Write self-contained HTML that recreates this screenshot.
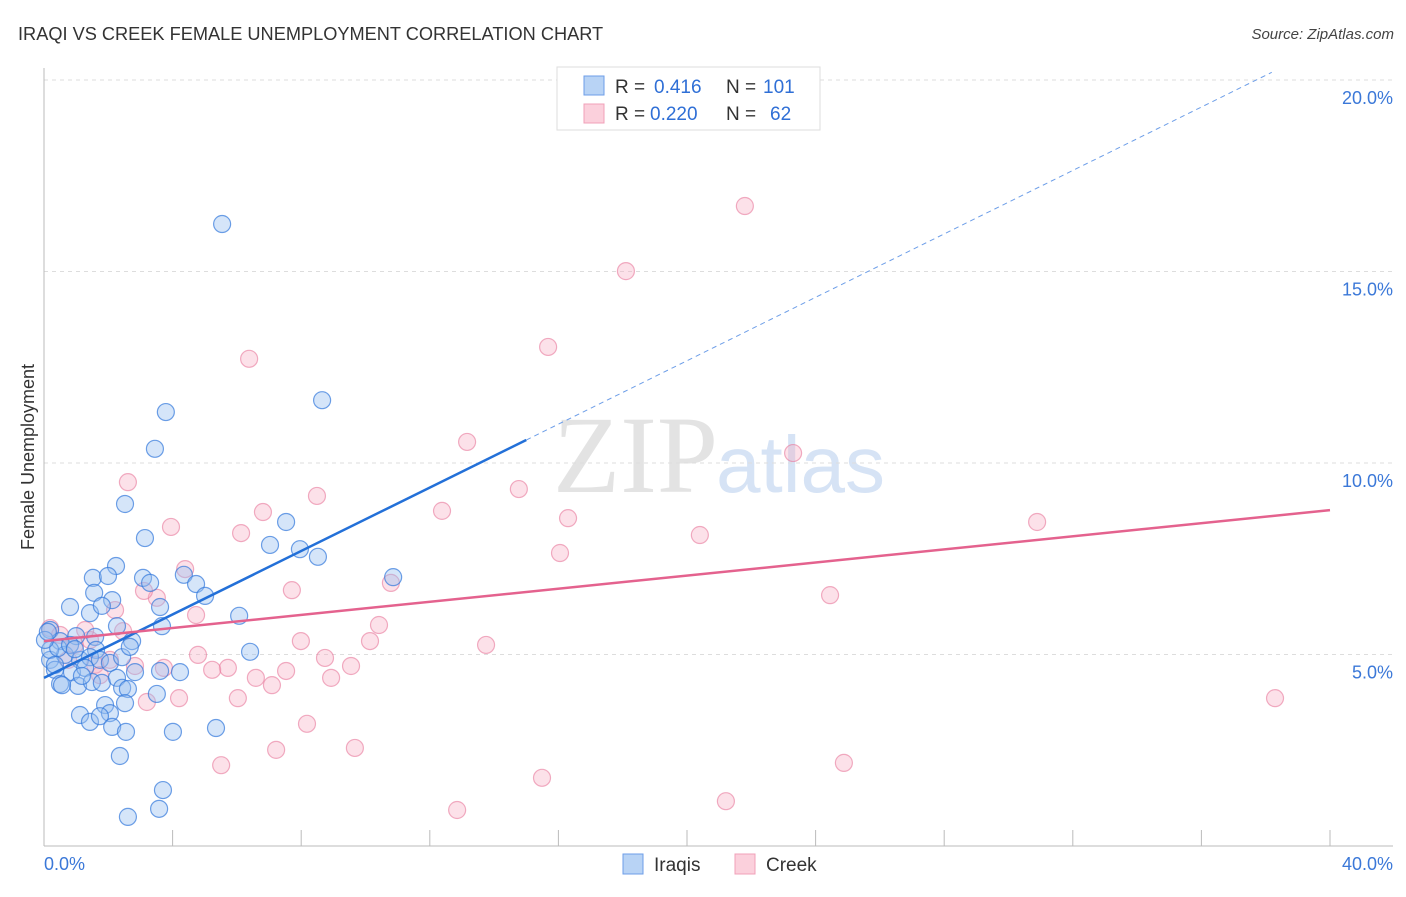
<!DOCTYPE html>
<html><head><meta charset="utf-8"><style>
body{margin:0;background:#fff;font-family:"Liberation Sans",sans-serif}
</style></head><body>
<svg width="1406" height="892" xmlns="http://www.w3.org/2000/svg" font-family="Liberation Sans, sans-serif">
<text x="18" y="40" font-size="18.2" fill="#333">IRAQI VS CREEK FEMALE UNEMPLOYMENT CORRELATION CHART</text>
<text x="1394" y="39" font-size="15" fill="#444" text-anchor="end" font-style="italic">Source: ZipAtlas.com</text>
<text x="553" y="492" font-size="110" fill="#e3e3e3" font-family="Liberation Serif, serif">ZIP</text>
<text x="716" y="492" font-size="80" fill="#d6e3f5">atlas</text>
<g id="grid"></g>
<line x1="44" y1="68" x2="44" y2="846" stroke="#bbb"/>
<line x1="44" y1="846" x2="1393" y2="846" stroke="#bbb"/>
<text transform="translate(34,457) rotate(-90)" font-size="18" fill="#333" text-anchor="middle">Female Unemployment</text>
<text x="44" y="870" font-size="18" fill="#3b78d8">0.0%</text>
<text x="1393" y="870" font-size="18" fill="#3b78d8" text-anchor="end">40.0%</text>
<g id="pts"></g>
<g id="lines"></g>
<g>
<rect x="557" y="67" width="263" height="63" fill="#fff" stroke="#ddd"/>
<rect x="584" y="76" width="20" height="19" fill="#b8d3f5" stroke="#6d9ee8"/>
<rect x="584" y="104" width="20" height="19" fill="#fbd0dc" stroke="#f0a0b8"/>
<text x="615" y="93" font-size="19" fill="#333">R =</text>
<text x="654" y="93" font-size="19" fill="#2f6fd6">0.416</text>
<text x="726" y="93" font-size="19" fill="#333">N =</text>
<text x="763" y="93" font-size="19" fill="#2f6fd6">101</text>
<text x="615" y="120" font-size="19" fill="#333">R =</text>
<text x="650" y="120" font-size="19" fill="#2f6fd6">0.220</text>
<text x="726" y="120" font-size="19" fill="#333">N =</text>
<text x="770" y="120" font-size="19" fill="#2f6fd6">62</text>
</g>
<g>
<rect x="623" y="854" width="20" height="20" fill="#b8d3f5" stroke="#6d9ee8"/>
<text x="654" y="871" font-size="19" fill="#333">Iraqis</text>
<rect x="735" y="854" width="20" height="20" fill="#fbd0dc" stroke="#f0a0b8"/>
<text x="766" y="871" font-size="19" fill="#333">Creek</text>
</g>
</svg>
<script>
const NS="http://www.w3.org/2000/svg";
const yTicks=[5,10,15,20];
const yTickLabels=["5.0%","10.0%","15.0%","20.0%"];
const xTicks=[0,4,8,12,16,20,24,28,32,36,40];
const bluePx=[[222,224],[166,412],[155,449],[322,400],[125,504],[145,538],[116,566],[93,578],[108,576],[143,578],[150,583],[184,575],[196,584],[205,596],[94,593],[112,600],[70,607],[90,613],[102,606],[160,607],[239,616],[162,626],[286,522],[270,545],[300,549],[318,557],[393,577],[50,630],[76,636],[95,637],[117,626],[132,641],[96,650],[60,641],[50,660],[65,655],[80,660],[90,657],[100,660],[110,663],[55,670],[72,672],[85,668],[60,684],[78,686],[92,682],[102,683],[122,657],[130,647],[160,671],[180,672],[250,652],[117,678],[135,672],[122,688],[128,689],[157,694],[80,715],[90,722],[105,705],[110,713],[100,716],[125,703],[112,727],[126,732],[173,732],[216,728],[120,756],[163,790],[159,809],[128,817],[50,650],[58,648],[70,645],[45,640],[48,632],[55,665],[62,685],[82,676],[75,649]];
const pinkPx=[[745,206],[626,271],[548,347],[249,359],[467,442],[793,453],[128,482],[519,489],[317,496],[442,511],[263,512],[171,527],[241,533],[568,518],[1037,522],[700,535],[560,553],[185,569],[391,583],[292,590],[157,598],[144,591],[830,595],[115,610],[196,615],[123,631],[379,625],[301,641],[370,641],[486,645],[325,658],[351,666],[198,655],[228,668],[212,670],[164,668],[135,666],[286,671],[256,678],[272,685],[331,678],[238,698],[179,698],[147,702],[1275,698],[307,724],[276,750],[355,748],[221,765],[542,778],[844,763],[457,810],[726,801],[50,628],[60,635],[75,645],[90,640],[95,665],[110,660],[68,660],[85,630],[100,675]];
const iraqiX=bluePx.map(p=>+((p[0]-44)/32.15).toFixed(2));
const iraqiY=bluePx.map(p=>+((846-p[1])/38.3).toFixed(2));
const creekX=pinkPx.map(p=>+((p[0]-44)/32.15).toFixed(2));
const creekY=pinkPx.map(p=>+((846-p[1])/38.3).toFixed(2));
const iraqiTrend=[4.39,10.6];
const creekTrend=[5.35,8.77];
const sx=v=>44+v*32.15, sy=v=>846-v*38.3;
function mk(t,a,p){const e=document.createElementNS(NS,t);for(const k in a)e.setAttribute(k,a[k]);p.appendChild(e);return e;}
const grid=document.getElementById('grid');
yTicks.forEach((t,i)=>{
 const l=mk('line',{x1:44,x2:1393,y1:sy(t),y2:sy(t),stroke:'#ddd','stroke-dasharray':'4,4'},grid);
 
 
 const tx=mk('text',{x:1393,y:sy(t)+24,'font-size':18,fill:'#3b78d8','text-anchor':'end'},grid);
 tx.textContent=yTickLabels[i];
 
 
});
xTicks.forEach(t=>{
 const l=mk('line',{x1:sx(t),x2:sx(t),y1:830,y2:846,stroke:'#bbb'},grid);
 
 
});
const pts=document.getElementById('pts');
creekX.forEach((x,i)=>{
 const c=mk('circle',{cx:sx(x),cy:sy(creekY[i]),r:8.5,fill:'rgba(246,170,192,0.35)',stroke:'rgba(232,120,155,0.6)','stroke-width':1.2},pts);
 
 
});
iraqiX.forEach((x,i)=>{
 const c=mk('circle',{cx:sx(x),cy:sy(iraqiY[i]),r:8.5,fill:'rgba(150,190,240,0.4)',stroke:'rgba(50,120,220,0.7)','stroke-width':1.2},pts);
 
 
});
const lines=document.getElementById('lines');
const slope=(iraqiTrend[1]-iraqiTrend[0])/15;
const xEnd=(20.2-iraqiTrend[0])/slope;
let l=mk('line',{x1:sx(15),y1:sy(iraqiTrend[1]),x2:sx(xEnd),y2:sy(20.2),stroke:'#6d9ee8','stroke-width':1,'stroke-dasharray':'5,4'},lines);


l=mk('line',{x1:sx(0),y1:sy(iraqiTrend[0]),x2:sx(15),y2:sy(iraqiTrend[1]),stroke:'#2370d8','stroke-width':2.5},lines);


l=mk('line',{x1:sx(0),y1:sy(creekTrend[0]),x2:sx(40),y2:sy(creekTrend[1]),stroke:'#e4628e','stroke-width':2.5},lines);


</script>
</body></html>
